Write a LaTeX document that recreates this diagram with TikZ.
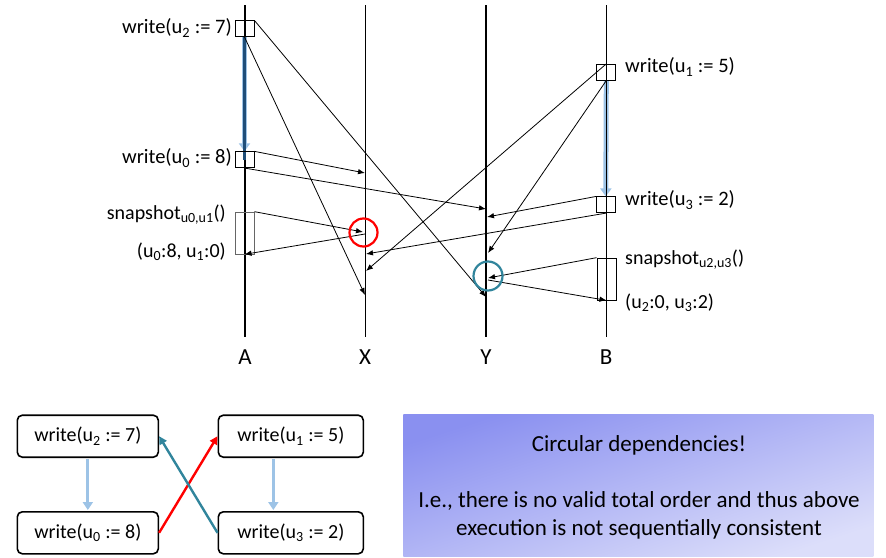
\documentclass[tikz,border=0pt]{standalone}
\usepackage{fontspec}
\setmainfont{Carlito}
\usetikzlibrary{arrows.meta,calc}
\definecolor{pobl}{HTML}{9DC3E6}
\definecolor{podark}{HTML}{1F4E79}
\definecolor{tealc}{HTML}{31859C}
\definecolor{gradA}{RGB}{138,144,240}
\definecolor{gradB}{RGB}{220,222,250}
\begin{document}
\begin{tikzpicture}[x=1pt,y=-1pt,
  thickline/.style={line width=2pt},
  thinline/.style={line width=0.9pt},
  msg/.style={line width=0.8pt,-{Latex[length=7pt,width=5.5pt]}},
  opbox/.style={draw,line width=0.7pt,minimum width=19pt,minimum height=16pt,inner sep=0pt},
  snbox/.style={opbox,minimum height=42pt},
  lbl/.style={font=\fontsize{20}{24}\selectfont,inner sep=0pt},
  wlbl/.style={font=\fontsize{20.5}{24}\selectfont,inner sep=0pt},
  proc/.style={font=\fontsize{23}{27}\selectfont,inner sep=0pt},
  wbox/.style={draw,rounded corners=5pt,line width=1.6pt,minimum height=42pt,inner sep=0pt,font=\fontsize{20}{24}\selectfont},
  po/.style={draw=pobl,line width=3.2pt,-{Triangle[length=8pt,width=10pt,fill=pobl]}},
  poline/.style={draw=pobl,line width=5pt,-{Triangle[length=8pt,width=11pt,fill=pobl]}},
  dep/.style={line width=2.4pt,-{Triangle[length=8pt,width=8pt]}},
  note/.style={font=\fontsize{23}{28}\selectfont,inner sep=0pt,align=center}]
\useasboundingbox (0,0) rectangle (886,557);

% process labels and timelines
\node[proc] (lA) at (245,357) {A};
\node[proc] (lX) at (365,357) {X};
\node[proc] (lY) at (486,357) {Y};
\node[proc] (lB) at (606,357) {B};
\coordinate (tA) at (245,5); \coordinate (bA) at (245,337);
\coordinate (tX) at (365,5); \coordinate (bX) at (365,337);
\coordinate (tY) at (486,5); \coordinate (bY) at (486,337);
\coordinate (tB) at (606,5); \coordinate (bB) at (606,337);

% operation boxes
\node[opbox] (wA7) at (244.5,28.7) {};
\node[opbox] (wA8) at (244.5,159.7) {};
\node[snbox] (snA) at (244.5,233) {};
\node[opbox] (wB5) at (606.3,72.2) {};
\node[opbox] (wB3) at (605.8,204.8) {};
\node[snbox] (snB) at (606.5,279) {};

% program order (light blue) under the timelines
\draw[poline] (wA7.south) -- (wA8.north);
\draw[poline] (wB5.south) -- (wB3.north);

\draw[thickline] (tA) -- (bA);
\draw[thinline] (tX) -- (bX);
\draw[thickline] (tY) -- (bY);
\draw[thinline] (tB) -- (bB);
\draw[podark,line width=2.4pt] (wA7.south) -- ([yshift=-9pt]wA8.north);

% redraw boxes on top
\node[opbox] at (wA7) {};
\node[opbox] at (wA8) {};
\node[snbox,draw=black!60] at (snA) {};
\node[opbox] at (wB5) {};
\node[opbox] at (wB3) {};
\node[snbox] at (snB) {};

% labels
\node[wlbl,anchor=east] (LwA7) at (232,28) {write(u\textsubscript{2} := 7)};
\node[wlbl,anchor=east] (LwA8) at (232,158) {write(u\textsubscript{0} := 8)};
\node[lbl,anchor=east] (LsnA) at (226,215) {snapshot\textsubscript{u0,u1}()};
\node[lbl,anchor=east] (LrA) at (226,252) {(u\textsubscript{0}:8, u\textsubscript{1}:0)};
\node[wlbl,anchor=west] (LwB5) at (625,67) {write(u\textsubscript{1} := 5)};
\node[wlbl,anchor=west] (LwB3) at (625,200) {write(u\textsubscript{3} := 2)};
\node[lbl,anchor=west] (LsnB) at (625,260) {snapshot\textsubscript{u2,u3}()};
\node[lbl,anchor=west] (LrB) at (625,303) {(u\textsubscript{2}:0, u\textsubscript{3}:2)};

% message end points
\coordinate (m1) at (486,297);
\coordinate (m2) at (365,295);
\coordinate (m3) at (365,173);
\coordinate (m4) at (486,209);
\coordinate (m5) at (363,232);
\coordinate (m6) at (365,234);
\coordinate (m7) at (366,271);
\coordinate (m8) at (488,253);
\coordinate (m9) at (487,217);
\coordinate (m10) at (366,254);
\coordinate (m11) at (488,278);
\coordinate (m12) at (488,280);

\draw[msg] (wA7.north east) -- (m1);
\draw[msg] (wA7.south) -- (m2);
\draw[msg] (wA8.north east) -- (m3);
\draw[msg] (wA8.south) -- (m4);
\draw[msg] (snA.north east) -- (m5);
\draw[msg] (m6) -- (snA.south);
\draw[msg] (wB5.north) -- (m7);
\draw[msg] (wB5.south) -- (m8);
\draw[msg] (wB3.north west) -- (m9);
\draw[msg] (wB3.south) -- (m10);
\draw[msg] (snB.north west) -- (m11);
\draw[msg] (m12) -- (snB.south);

% circles
\node[draw=red,line width=2.2pt,circle,minimum size=28pt,inner sep=0pt] (cX) at (363.5,232.5) {};
\node[draw=tealc,line width=2.2pt,circle,minimum size=29pt,inner sep=0pt] (cY) at (488,276) {};

% dependency graph
\node[wbox,minimum width=141pt] (g7) at (87.8,436.2) {write(u\textsubscript{2} := 7)};
\node[wbox,minimum width=145pt] (g5) at (290.8,436.2) {write(u\textsubscript{1} := 5)};
\node[wbox,minimum width=141pt] (g8) at (87.8,532.8) {write(u\textsubscript{0} := 8)};
\node[wbox,minimum width=145pt] (g2) at (290.8,532.8) {write(u\textsubscript{3} := 2)};
\draw[po] ([yshift=-1pt]g7.south) -- ([yshift=1pt]g8.north);
\draw[po] ([xshift=-17.5pt,yshift=-1pt]g5.south) -- ([xshift=-17.5pt,yshift=1pt]g2.north);
\draw[dep,red] (g8.east) -- (g5.west);
\draw[dep,tealc] (g2.west) -- (g7.east);

% note box
\shade[top color=gradA,bottom color=gradB,shading angle=18] (403.3,414) rectangle (873.3,556.7);
\node[note] (n1) at (639,445.7) {Circular dependencies!};
\node[note] (n2) at (639,515) {I.e., there is no valid total order and thus above\\execution is not sequentially consistent};
\end{tikzpicture}
\end{document}
